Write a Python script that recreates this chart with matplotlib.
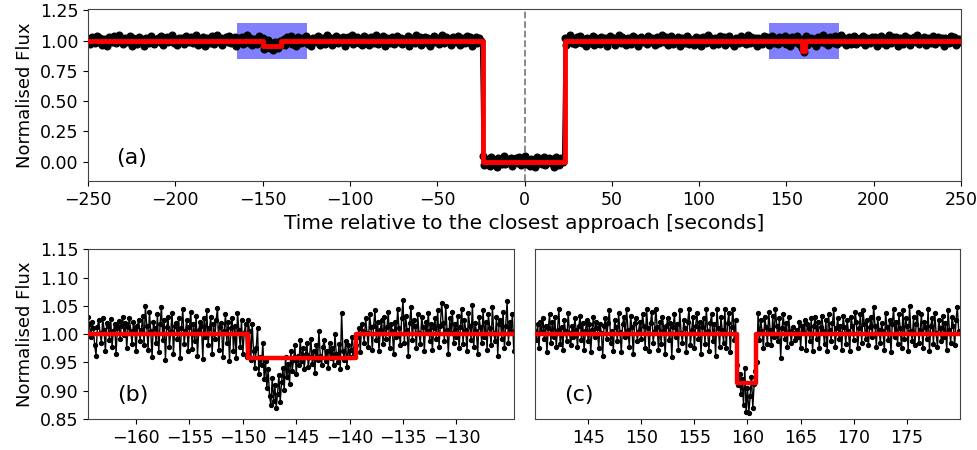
"""
Occultation light curve with two zoomed dips
"""

import numpy as np
import matplotlib.pyplot as plt
from matplotlib.patches import Rectangle

# model events: (start, end, drop in flux)
events = [(-24.0, 23.0, 1.0), (-149.5, -139.4, 0.042), (159.0, 160.8, 0.086)]

# full light curve, 1 s cadence from -250 s, residuals from the model in units of 1e-3
t_full_start, t_full_step = -250, 1.0
resid_full = [
    12, -25, 30, 5, -18, 40, -8, 22, -35, 15, 3, -42, 28, 10, -15, 35, -22, 8, 45, -5,
    -30, 18, 2, -12, 38, -40, 20, 7, -25, 33, -10, 15, -45, 25, 0, -18, 42, 12, -28, 5,
    22, -8, 35, -32, 10, 28, -15, 3, 48, -20, 14, -38, 26, -5, 18, -27, 40, 9, -12, 30,
    -22, 6, 44, -35, 16, -9, 31, -41, 21, 2, -17, 37, -26, 13, 46, -7, 24, -33, 11, 29,
    -14, 39, -23, 4, 27, -46, 19, -3, 34, -29, 8, 43, -19, 23, -36, 15, 1, -24, 36, -11,
    25, -31, 10, 47, -16, 20, -39, 32, 6, -21, 41, -13, 17, -34, 28, -2, 38, -27, 12, -44,
    30, 5, -20, 26, -8, 42, -30, 14, -47, 22, 9, -15, 35, -37, 18, 3, -25, 45, -10, 24,
    -33, 11, 39, -18, 21, -6, 33, -42, 16, 27, -12, 44, -28, 7, 31, -21, 13, -38, 40, -4,
    19, -35, 29, 8, -16, 46, -24, 12, -9, 37, -43, 23, 4, -19, 32, -30, 15, 41, -14, 26,
    -26, 17, -3, 36, -40, 20, 10, -22, 43, -11, 28, -36, 6, 34, -17, 24, -45, 14, 38, -7,
    22, -29, 9, 45, -20, 31, -5, 16, -39, 27, 2, -14, 40, -32, 19, 11, -23, 35, -8, 29,
    -41, 13, 33, -19, 25, -2, 42, -27, 8, 20, -34, 37, -11, 15, -46, 30, 4, -18, 44, -24,
    18, -6, 31, -37, 12, 26, -15, 39, -28, 5, 47, -21, 14, -33, 23, 9, -43, 34, -10, 21,
    -17, 40, -30, 7, 28, -12, 19, -44, 36, 1, -25, 32, -7, 24, -38, 16, 43, -20, 10, -31,
    27, -9, 35, -23, 13, -48, 22, 6, -16, 41, -35, 18, 3, -27, 33, -13, 26, -40, 15, 37,
    -5, 23, -32, 11, 44, -18, 29, -1, -36, 20, 8, -24, 38, -15, 25, -42, 12, 31, -9, 17,
    -28, 36, -14, 21, 4, -39, 30, -22, 16, 45, -11, 27, -34, 9, 40, -26, 14, -6, 33, -45,
    24, 2, -19, 39, -29, 17, 7, -37, 34, -13, 22, -41, 28, 10, -21, 43, -8, 19, -33, 25,
    12, -27, 41, -4, 29, -36, 15, 35, -18, 6, -44, 26, 11, -23, 38, -10, 20, -31, 47, -16,
    31, -8, 18, -40, 24, 13, -26, 37, -2, 27, -35, 9, 42, -19, 16, -29, 33, 5, -12, 39,
    -24, 20, -46, 28, 3, -15, 36, -31, 14, 23, -7, 40, -38, 17, 26, -20, 11, -43, 32, 8,
    -13, 44, -22, 19, -34, 29, 6, -17, 35, -28, 12, 46, -9, 22, -39, 15, 30, -25, 4, 38,
    -30, 16, 25, -11, 41, -37, 21, 7, -23, 33, -6, 28, -42, 13, 37, -16, 24, -32, 9, 43,
    -20, 27, -3, 34, -41, 18, 10, -28, 39, -14, 23, -36, 15, 31, -10, 45, -26, 12, -5, 30,
    -38, 21, 8, -19, 42, -27, 16, 34, -12, 26, -45, 19, 3, -22, 37, -8, 29, -33, 14, 11,
    -15]

# zoom (b): 0.125 s cadence from -164.5 s, flux-1 in units of 1e-3
t_b_start, t_b_step = -164.5, 0.125
flux_b = [
    30, 18, -5, 22, 10, -20, -38, 12, 25, 2, -15, 28, 8, -30, 20, 15, -10, 26, -22, 5,
    18, -35, 10, 24, -8, 15, 30, -2, 20, -25, 12, 28, 6, -18, 22, 9, -30, 15, 25, -12,
    8, 32, -20, 50, 14, -28, 40, 5, -40, 22, 10, -15, 35, -32, 18, 48, -10, 25, -45, 12,
    30, -22, 6, 38, -36, 15, 20, -8, 28, -42, 10, 45, -18, 5, 25, -30, 12, 40, -26, 18,
    -12, 32, -38, 8, 22, 15, -44, 28, -5, 42, -20, 10, 30, -35, 18, -8, 25, 46, -28, 12,
    20, -40, 5, 35, -15, 22, -48, 10, 28, -30, 15, -42, 38, 8, -22, 25, -35, 2, 18, -40,
    25, 5, -45, 18, -30, -60, -25, 10, -70, -40, -55, -15, -80, -48, -95, -62, -110, -125, -78, -118,
    -90, -130, -105, -72, -120, -85, -60, -98, -40, -75, -52, -88, -30, -65, -45, -20, -70, -38, -55, -10,
    -48, -25, -62, -35, -15, -58, -40, -8, -52, -30, -68, -20, -45, 5, -38, -55, -22, -10, -48, -30,
    -60, -15, -42, -25, -55, 0, -35, -50, -18, -62, 38, -30, -45, -12, -58, -20, -40, -28, -5, -35,
    -25,
    -20, -5, 10, -32, 18, 5, -15, 28, 2, -22, 35, 12, -28, 15, 42, -10, 22, -30, 8, 25,
    -18, 30, -8, 12, 40, -25, 18, 5, -35, 22, -5, 45, 10, -20, 28, 60, -15, 32, 8, -38,
    20, 48, -10, 25, 15, -25, 35, 2, -18, 30, 12, -30, 22, 5, 38, -12, 18, -28, 10, 28,
    -8, 42, -22, 15, 55, 20, -12, 50, 8, -35, 28, 2, 40, -15, 18, -5, 32, -25, 12, 45,
    -18, 25, 8, -30, 38, 15, -10, 52, -22, 20, 5, -35, 30, 12, -15, 42, -5, 22, -28, 35,
    10, -20, 48, 2, -12, 30, -38, 18, 25, -8, 40, -25, 15, 58, -15, 22, 5, 35, -30]

# zoom (c): 0.125 s cadence from 140 s, flux-1 in units of 1e-3
t_c_start, t_c_step = 140.0, 0.125
flux_c = [
    5, -10, 18, -25, 22, 3, 28, -8, 15, -32, 10, 35, -15, 22, -5, 30, -22, 8, 45, -18,
    12, -28, 25, 5, -12, 38, 2, -20, 15, -5, 28, 8, -22, 14, 32, -10, 20, -28, 6, 25,
    -12, 18, -32, 8, 30, -5, 22, 10, -25, 18, 2, -38, 15, 28, -8, 20, 42, -15, 5, -30,
    25, 12, -12, 38, 3, -32, 18, 30, -5, 44, 8, -22, 32, 12, -36, 20, 28, -12, 5, 22,
    -8, 35, 15, -25, 45, 10, -30, 20, 40, -15, 5, 45, 12, -28, 22, -18, 30, 8, -35, 15,
    28, -10, 20, -40, 12, 35, -5, 18, -28, 42, 2, -15, 25, 10, -32, 22, 45, -20, 8, 30,
    -25, 15, 38, -8, 22, -35, 12, 28, -18, 45, 5, -30, 20, 35, -12, 18, -38, 44, 10, -22,
    30, 8, -15, 45, -25, 20, 38, -32, 12, 45, -10, 25,
    -55, -90, -70, -105, -80, -125, -60, -138, -95, -140, -110, -75, -130, -88, -65,
    -50, 38, -10, 25, 5, -25, 30, 12, -18, 40, 8, -20, 32, -5, 45, 15, -12, 28, -42, 10,
    35, -8, 20, -22, 30, 5, -15, 12, 2, -10, 8, -5, 22, -25, 15, 3, 25, -28, 18, 10,
    -12, 28, -30, 15, 30, -8, 22, -25, 12, 32, 5, -18, 25, -30, 35, 8, -12, 20, 45, -22,
    10, 28, -8, 15, -28, 32, 12, -18, 25, 5, -30, 30, 15, -10, 40, 22, -25, 10, 35, -15,
    42, 18, -8, 25, -20, 12, 30, -5, 48, 15, -22, 28, 8, -15, 20, 5, -28, 38, 12, -10,
    25, -32, 18, 45, -5, 22, -18, 35, 10, -25, 42, -8, 28, 15, -30, 50, 5, -12, 30, -20,
    18, 40, -15, 8, 35, -25, 22, 12, -8, 45, -30, 15, 28, -18, 38, 2, -22, 25, 10, -12,
    32, -5, 20, -28, 42, 8, -15, 30, 15, -20, 25, 48, 5]

windows = [(-164.5, -124.6), (140.0, 180.0)]
zoom_ylim = (0.85, 1.15)


def model(t):
    f = np.ones_like(t, dtype=float)
    for start, end, drop in events:
        f[(t >= start) & (t < end)] -= drop
    return f


def step_line(t0, t1):
    edges = [t0, t1]
    for start, end, drop in events:
        edges += [s for s in (start, end) if t0 < s < t1]
    edges = np.sort(edges)
    x = np.repeat(edges, 2)[1:-1]
    y = np.repeat(model(edges[:-1] + 1e-6), 2)
    return x, y


t_full = t_full_start + t_full_step*np.arange(len(resid_full))
f_full = model(t_full) + np.array(resid_full)/1000.
t_b = t_b_start + t_b_step*np.arange(len(flux_b))
f_b = 1 + np.array(flux_b)/1000.
t_c = t_c_start + t_c_step*np.arange(len(flux_c))
f_c = 1 + np.array(flux_c)/1000.

fig = plt.figure(figsize=(9.78, 4.5), dpi=100)
ax_a = fig.add_axes([0.090, 0.598, 0.8926, 0.382])
ax_b = fig.add_axes([0.090, 0.069, 0.4356, 0.377])
ax_c = fig.add_axes([0.547, 0.069, 0.4346, 0.377])

# top panel
for w0, w1 in windows:
    ax_a.add_patch(Rectangle((w0, zoom_ylim[0]), w1-w0, zoom_ylim[1]-zoom_ylim[0],
                             facecolor=(0.5, 0.5, 1.0), edgecolor='none', zorder=0))
ax_a.plot(t_full, f_full, '-o', color='k', ms=4.8, lw=1.5, zorder=2)
xm, ym = step_line(-250, 250)
ax_a.plot(xm, ym, color='red', lw=3.5, zorder=3)
ax_a.axvline(0, color='gray', ls='--', lw=1.3, zorder=1)
ax_a.set_xlim(-250, 250)
ax_a.set_ylim(-0.16, 1.262)
ax_a.set_xticks(np.arange(-250, 251, 50))
ax_a.set_yticks([0, 0.25, 0.5, 0.75, 1.0, 1.25])
ax_a.set_xlabel('Time relative to the closest approach [seconds]', fontsize=14.5)
ax_a.set_ylabel('Normalised Flux', fontsize=13)
ax_a.text(-234, 0.03, '(a)', fontsize=16, ha='left', va='center')

# zoomed panels
for ax, t, f, (w0, w1), lab, xt in [(ax_b, t_b, f_b, windows[0], '(b)', np.arange(-160, -129, 5)),
                                     (ax_c, t_c, f_c, windows[1], '(c)', np.arange(145, 176, 5))]:
    ax.plot(t, f, '-o', color='k', ms=2.8, lw=1.0, zorder=2)
    xm, ym = step_line(w0, w1)
    ax.plot(xm, ym, color='red', lw=3.2, zorder=3)
    ax.set_xlim(w0, w1)
    ax.set_ylim(*zoom_ylim)
    ax.set_xticks(xt)
    ax.text(w0 + 2.7, 0.892, lab, fontsize=16, ha='left', va='center')

ax_b.set_yticks([0.85, 0.90, 0.95, 1.00, 1.05, 1.10, 1.15])
ax_b.set_ylabel('Normalised Flux', fontsize=13)
ax_c.set_yticks([])

for ax in (ax_a, ax_b, ax_c):
    ax.tick_params(labelsize=12.5)
    for s in ax.spines.values():
        s.set_color('#444444')

fig.savefig('out.png', dpi=100)
